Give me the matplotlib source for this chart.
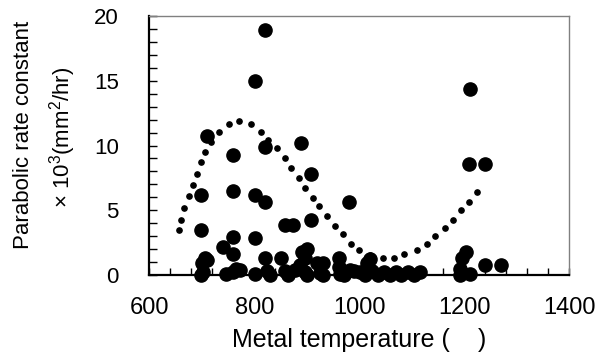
import matplotlib.pyplot as plt
from matplotlib.ticker import MultipleLocator

plt.rcParams['font.family'] = ['Liberation Sans', 'DejaVu Sans']
plt.rcParams['mathtext.fontset'] = 'custom'
plt.rcParams['mathtext.rm'] = 'Liberation Sans'

# measured points: metal temperature vs parabolic rate constant
temp = [821, 802, 710, 889, 821, 760, 908, 699, 760, 802, 821, 981, 859, 874,
        908, 699, 760, 802, 741, 1210, 1209, 1240, 1240, 1270,
        759, 706, 700, 710, 703, 699, 747, 766, 772, 760, 821, 824, 802, 830,
        851, 858, 864, 878, 887, 890, 900, 897, 897, 900, 919, 925, 931, 931,
        962, 962, 963, 970, 982, 989, 1001, 1014, 1020, 1024, 1047, 1070, 1093,
        1116, 1010, 1035, 1058, 1080, 1105, 1195, 1204, 1192, 1192, 1211]
rate = [18.9, 15.0, 10.7, 10.2, 9.9, 9.3, 7.8, 6.2, 6.5, 6.2, 5.6, 5.6, 3.9, 3.9,
        4.25, 3.45, 2.95, 2.85, 2.2, 14.4, 8.55, 8.55, 0.75, 0.75,
        1.65, 1.3, 0.9, 1.15, 0.25, 0.0, 0.1, 0.5, 0.35, 0.2, 1.3, 0.3, 0.1, 0.0,
        1.3, 0.3, 0.0, 0.35, 0.8, 1.8, 2.0, 1.3, 0.25, 0.0, 0.9, 0.15, 0.9, 0.0,
        1.35, 0.6, 0.1, 0.0, 0.4, 0.3, 0.25, 0.95, 1.2, 0.3, 0.25, 0.25, 0.25,
        0.25, 0.0, 0.0, 0.0, 0.0, 0.0, 1.3, 1.8, 0.5, 0.0, 0.1]

# dotted trend line
trend_t = [657, 660, 667, 675, 683, 690, 698, 706, 717, 732, 751, 770, 793, 812,
           827, 843, 858, 869, 885, 896, 911, 923, 938, 953, 968, 984, 999, 1020,
           1045, 1067, 1086, 1109, 1128, 1144, 1163, 1178, 1193, 1208, 1224]
trend_v = [3.47, 4.27, 5.20, 6.13, 6.92, 7.83, 8.75, 9.52, 10.30, 11.07, 11.69,
           11.87, 11.69, 11.07, 10.45, 9.83, 9.06, 8.29, 7.52, 6.74, 5.97, 5.35,
           4.58, 3.81, 3.19, 2.42, 1.96, 1.55, 1.34, 1.34, 1.65, 1.96, 2.42, 3.03,
           3.65, 4.27, 5.04, 5.66, 6.43]

fig = plt.figure(figsize=(6.09, 3.58), dpi=100)
ax = fig.add_axes([0.2452, 0.2318, 0.6896, 0.7235])

ax.plot(trend_t, trend_v, 'o', color='black', markersize=3.8, linestyle='none')
ax.plot(temp, rate, 'o', color='black', markersize=9.5, linestyle='none',
        clip_on=False, zorder=3)

ax.set_xlim(600, 1400)
ax.set_ylim(0, 20)
ax.xaxis.set_major_locator(MultipleLocator(200))
ax.xaxis.set_minor_locator(MultipleLocator(40))
ax.yaxis.set_major_locator(MultipleLocator(5))
ax.yaxis.set_minor_locator(MultipleLocator(1))
ax.tick_params(axis='both', which='both', direction='in', top=False, right=False)
ax.tick_params(axis='x', which='both', length=5, width=1, pad=16, labelsize=17)
ax.tick_params(axis='y', which='both', length=6, width=1, pad=22, labelsize=16)

for s in ['left', 'bottom']:
    ax.spines[s].set_linewidth(1.6)
    ax.spines[s].set_color('black')
for s in ['top', 'right']:
    ax.spines[s].set_linewidth(1.0)
    ax.spines[s].set_color('#808080')

ax.set_xlabel('Metal temperature (    )', fontsize=18, labelpad=6)
fig.text(24 / 609, 0.623, 'Parabolic rate constant', rotation=90,
         fontsize=16, ha='center', va='center')
fig.text(63 / 609, 0.615, r'$\times$ 10$^{3}$(mm$^{2}$/hr)', rotation=90,
         fontsize=16, ha='center', va='center')

plt.savefig('out.png', dpi=100)
